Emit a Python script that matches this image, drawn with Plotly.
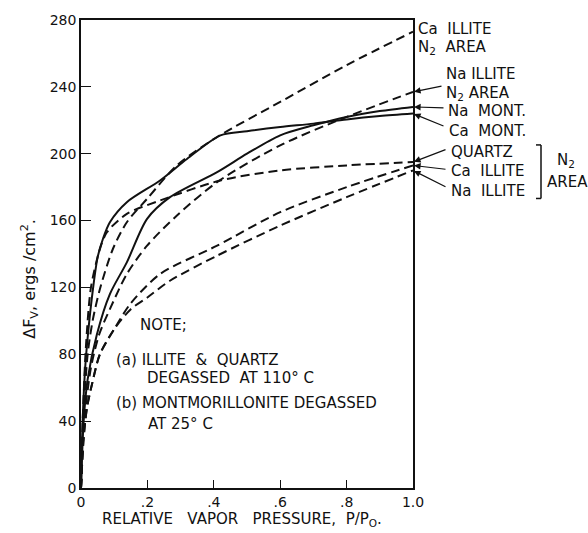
import plotly.graph_objects as go

# Relative vapor pressure P/Po and free-energy change (ergs/cm^2) per sample
ca_mont_p = [0, 0.005, 0.012, 0.021, 0.036, 0.05, 0.066, 0.087, 0.138, 0.238, 0.32, 0.42, 0.5, 0.6, 0.7, 0.8, 0.9, 1.0]
ca_mont_f = [0, 40, 70, 92, 119, 138, 149, 159, 171, 184, 197, 211, 213.5, 216, 218, 220.5, 222.5, 224]

na_mont_p = [0, 0.008, 0.02, 0.048, 0.087, 0.138, 0.199, 0.268, 0.41, 0.5, 0.6, 0.7, 0.8, 0.9, 1.0]
na_mont_f = [0, 40, 65, 92, 116, 135, 161, 174, 189, 200, 211, 217, 222, 225.5, 228]

ca_illite_n2_p = [0, 0.008, 0.02, 0.035, 0.057, 0.096, 0.138, 0.199, 0.289, 0.41, 0.6, 0.8, 1.0]
ca_illite_n2_f = [0, 45, 80, 100, 119, 143, 159, 173, 193, 210, 231, 253, 273]

na_illite_n2_p = [0, 0.01, 0.03, 0.055, 0.087, 0.138, 0.199, 0.289, 0.41, 0.6, 0.8, 1.0]
na_illite_n2_f = [0, 40, 72, 92, 107, 128, 145, 163, 183, 205, 222, 237]

quartz_n2_p = [0, 0.006, 0.015, 0.03, 0.057, 0.078, 0.138, 0.238, 0.42, 0.6, 0.8, 1.0]
quartz_n2_f = [0, 45, 85, 120, 143, 153, 164, 172, 184, 190, 193, 195]

ca_illite_p = [0, 0.008, 0.018, 0.033, 0.057, 0.1, 0.148, 0.238, 0.41, 0.6, 0.8, 1.0]
ca_illite_f = [0, 30, 48, 62, 80, 95, 110, 128, 145, 165, 180, 193]

na_illite_p = [0, 0.008, 0.018, 0.033, 0.057, 0.1, 0.15, 0.2, 0.268, 0.41, 0.6, 0.8, 1.0]
na_illite_f = [0, 30, 48, 62, 80, 95, 107, 114, 124, 139, 157, 174, 190]

x_ticks = [0, 0.2, 0.4, 0.6, 0.8, 1.0]
x_tick_text = ["0", ".2", ".4", ".6", ".8", "1.0"]
y_ticks = [0, 40, 80, 120, 160, 200, 240, 280]

FONT = "DejaVu Sans"
INK = "#111111"
W, H = 588, 533
L, R, T, B = 81, 413, 16, 488

fig = go.Figure()

solid = dict(color=INK, width=2, shape="spline", smoothing=0.8)
dashed = dict(color=INK, width=2, dash="9px,5px", shape="spline", smoothing=0.8)

for p, f, name in [(ca_mont_p, ca_mont_f, "Ca MONT."), (na_mont_p, na_mont_f, "Na MONT.")]:
    fig.add_trace(go.Scatter(x=p, y=f, mode="lines", line=solid, name=name))

for p, f, name in [
    (ca_illite_n2_p, ca_illite_n2_f, "Ca ILLITE N2 AREA"),
    (na_illite_n2_p, na_illite_n2_f, "Na ILLITE N2 AREA"),
    (quartz_n2_p, quartz_n2_f, "QUARTZ"),
    (ca_illite_p, ca_illite_f, "Ca ILLITE"),
    (na_illite_p, na_illite_f, "Na ILLITE"),
]:
    fig.add_trace(go.Scatter(x=p, y=f, mode="lines", line=dashed, name=name))


def px(xp):
    return (xp - L) / (R - L)


def py(yp):
    return (B - yp) / (B - T)


def label(text, left, cy, size=15, anchor="left"):
    fig.add_annotation(
        text=text, xref="paper", yref="paper", x=px(left), y=py(cy),
        xanchor=anchor, yanchor="middle", showarrow=False,
        font=dict(family=FONT, size=size, color=INK),
    )


NB = "\u00a0"
S2 = NB * 2
S3 = NB * 3

# Labels beside the right edge
label(f"Ca{S2}ILLITE", 416, 25)
label(f"N<sub>2</sub>{S2}AREA", 416, 44)
label("Na ILLITE", 444, 70)
label("N<sub>2</sub> AREA", 444, 90)
label(f"Na{S2}MONT.", 446, 108)
label(f"Ca{S2}MONT.", 447, 128)
label("QUARTZ", 449, 149)
label(f"Ca{S2}ILLITE", 449, 168)
label(f"Na{S2}ILLITE", 449, 188)
label("N<sub>2</sub>", 555, 158)
label("AREA", 545, 179)

# Bracket grouping the nitrogen-area curves
for x0, y0, x1, y1 in [(541, 142, 541, 196), (536, 142, 541, 142), (536, 196, 541, 196)]:
    fig.add_shape(type="line", xref="paper", yref="paper",
                  x0=px(x0), y0=py(y0), x1=px(x1), y1=py(y1),
                  line=dict(color=INK, width=1.5))

# Arrows pointing at the curve ends (value, tail offset in px)
arrows = [
    (na_illite_n2_f[-1], 30, -6),
    (na_mont_f[-1], 32, 1),
    (ca_mont_f[-1], 32, 13),
    (quartz_n2_f[-1], 34, -13),
    (ca_illite_f[-1], 34, 4),
    (na_illite_f[-1], 34, 17),
]
for val, axp, ayp in arrows:
    fig.add_annotation(
        x=1.0, y=val, xref="x", yref="y", text="", showarrow=True,
        ax=axp, ay=ayp, arrowhead=2, arrowsize=1.1, arrowwidth=1.2,
        arrowcolor=INK, standoff=1,
    )

# Note block
label("NOTE;", 138, 324)
label(f"(a) ILLITE{S2}&{S2}QUARTZ", 114, 359)
label(f"DEGASSED{S2}AT{NB}110°{NB}C", 145, 377)
label(f"(b) MONTMORILLONITE{NB}DEGASSED", 114, 402)
label(f"AT{NB}25°{NB}C", 146, 423)

# Axis titles
label(f"RELATIVE{S3}VAPOR{S3}PRESSURE,{S2}P/P<sub>O</sub>.", 242, 520, size=15, anchor="center")
fig.add_annotation(
    text="\u0394F<sub>V</sub>, ergs /cm<sup>2</sup>.", xref="paper", yref="paper",
    x=px(30), y=py(277), xanchor="center", yanchor="middle", textangle=-90,
    showarrow=False, font=dict(family=FONT, size=16, color=INK),
)

axis_common = dict(
    showline=True, linecolor=INK, linewidth=1.5, mirror=True,
    showgrid=False, zeroline=False, ticks="inside", tickcolor=INK,
    tickwidth=1.2, tickfont=dict(family=FONT, size=14, color=INK),
)

fig.update_xaxes(range=[0, 1], tickvals=x_ticks, ticktext=x_tick_text, ticklen=8, **axis_common)
fig.update_yaxes(range=[0, 280], tickvals=y_ticks, ticklen=10, **axis_common)

fig.update_layout(
    width=W, height=H,
    margin=dict(l=L, r=W - R, t=T, b=H - B),
    paper_bgcolor="white", plot_bgcolor="white",
    showlegend=False,
)

fig.write_html("out.html")
